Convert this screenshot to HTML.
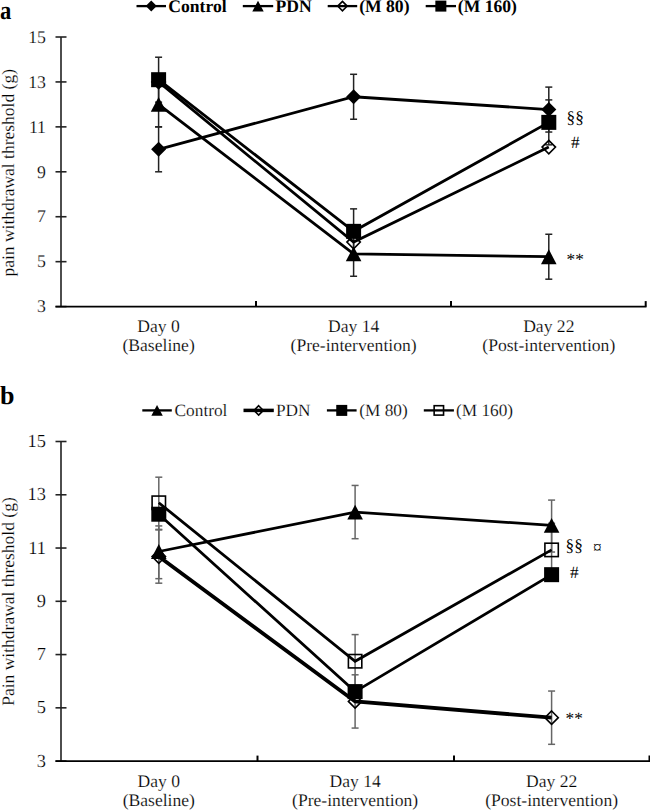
<!DOCTYPE html>
<html><head><meta charset="utf-8"><style>
html,body{margin:0;padding:0;background:#fff;width:650px;height:811px;overflow:hidden}
svg{display:block}
text{font-family:"Liberation Serif", serif;fill:#000;text-rendering:geometricPrecision}
text:not([font-weight="bold"]):not(.sym){stroke:#fff;stroke-width:0.18px}
</style></head><body>
<svg width="650" height="811" viewBox="0 0 650 811">
<text transform="translate(0,19) scale(0.87,1)" x="0" y="0" font-size="26" font-weight="bold">a</text>
<line x1="136.5" y1="6.1" x2="166" y2="6.1" stroke="#000" stroke-width="2.3"/>
<path d="M151.25,0.60 L156.75,6.10 L151.25,11.60 L145.75,6.10Z" fill="#000"/>
<text x="168.3" y="11.5" font-size="17.6" font-weight="bold">Control</text>
<line x1="242.8" y1="6.1" x2="273.2" y2="6.1" stroke="#000" stroke-width="2.3"/>
<path d="M258.00,0.67 L263.72,11.53 L252.28,11.53Z" fill="#000"/>
<text x="275.5" y="11.5" font-size="17.6" font-weight="bold">PDN</text>
<line x1="327.7" y1="6.1" x2="357.2" y2="6.1" stroke="#000" stroke-width="2.3"/>
<path d="M342.45,1.40 L347.15,6.10 L342.45,10.80 L337.75,6.10Z" fill="none" stroke="#000" stroke-width="1.6"/>
<text x="359.2" y="11.5" font-size="17.6" font-weight="bold">(M 80)</text>
<line x1="425.7" y1="6.1" x2="456" y2="6.1" stroke="#000" stroke-width="2.3"/>
<rect x="435.35" y="0.60" width="11" height="11" fill="#000"/>
<text x="457.8" y="11.5" font-size="17.6" font-weight="bold">(M 160)</text>
<line x1="61" y1="37" x2="61" y2="306.6" stroke="#3a3a3a" stroke-width="1.8"/>
<line x1="55.5" y1="37.00" x2="66.5" y2="37.00" stroke="#222" stroke-width="1.6"/>
<text x="46" y="42.70" text-anchor="end" font-size="17.8">15</text>
<line x1="55.5" y1="81.93" x2="66.5" y2="81.93" stroke="#222" stroke-width="1.6"/>
<text x="46" y="87.63" text-anchor="end" font-size="17.8">13</text>
<line x1="55.5" y1="126.87" x2="66.5" y2="126.87" stroke="#222" stroke-width="1.6"/>
<text x="46" y="132.57" text-anchor="end" font-size="17.8">11</text>
<line x1="55.5" y1="171.80" x2="66.5" y2="171.80" stroke="#222" stroke-width="1.6"/>
<text x="46" y="177.50" text-anchor="end" font-size="17.8">9</text>
<line x1="55.5" y1="216.73" x2="66.5" y2="216.73" stroke="#222" stroke-width="1.6"/>
<text x="46" y="222.43" text-anchor="end" font-size="17.8">7</text>
<line x1="55.5" y1="261.67" x2="66.5" y2="261.67" stroke="#222" stroke-width="1.6"/>
<text x="46" y="267.37" text-anchor="end" font-size="17.8">5</text>
<line x1="55.5" y1="306.60" x2="66.5" y2="306.60" stroke="#222" stroke-width="1.6"/>
<text x="46" y="312.30" text-anchor="end" font-size="17.8">3</text>
<line x1="55.5" y1="306.6" x2="646.5" y2="306.6" stroke="#000" stroke-width="1.8"/>
<line x1="256" y1="301.1" x2="256" y2="306.6" stroke="#000" stroke-width="2"/>
<line x1="451" y1="301.1" x2="451" y2="306.6" stroke="#000" stroke-width="2"/>
<line x1="645.7" y1="301.1" x2="645.7" y2="306.6" stroke="#000" stroke-width="2"/>
<text x="158.6" y="332.3" text-anchor="middle" font-size="17.6">Day 0</text>
<text x="158.6" y="351.3" text-anchor="middle" font-size="17.6">(Baseline)</text>
<text x="353.6" y="332.3" text-anchor="middle" font-size="17.6">Day 14</text>
<text x="353.6" y="351.3" text-anchor="middle" font-size="17.6">(Pre-intervention)</text>
<text x="548.8" y="332.3" text-anchor="middle" font-size="17.6">Day 22</text>
<text x="548.8" y="351.3" text-anchor="middle" font-size="17.6">(Post-intervention)</text>
<text transform="translate(14.3,172.8) rotate(-90)" text-anchor="middle" font-size="17.5">pain withdrawal threshold (g)</text>
<g stroke="#222" stroke-width="1.5"><line x1="158.6" y1="57.22" x2="158.6" y2="102.15"/><line x1="155.1" y1="57.22" x2="162.1" y2="57.22"/><line x1="155.1" y1="102.15" x2="162.1" y2="102.15"/></g>
<g stroke="#222" stroke-width="1.5"><line x1="158.6" y1="126.87" x2="158.6" y2="171.80"/><line x1="155.1" y1="126.87" x2="162.1" y2="126.87"/><line x1="155.1" y1="171.80" x2="162.1" y2="171.80"/></g>
<g stroke="#222" stroke-width="1.5"><line x1="158.6" y1="81.93" x2="158.6" y2="126.87"/><line x1="155.1" y1="81.93" x2="162.1" y2="81.93"/><line x1="155.1" y1="126.87" x2="162.1" y2="126.87"/></g>
<g stroke="#222" stroke-width="1.5"><line x1="353.6" y1="74.29" x2="353.6" y2="119.23"/><line x1="350.1" y1="74.29" x2="357.1" y2="74.29"/><line x1="350.1" y1="119.23" x2="357.1" y2="119.23"/></g>
<g stroke="#222" stroke-width="1.5"><line x1="353.6" y1="208.87" x2="353.6" y2="253.80"/><line x1="350.1" y1="208.87" x2="357.1" y2="208.87"/><line x1="350.1" y1="253.80" x2="357.1" y2="253.80"/></g>
<g stroke="#222" stroke-width="1.5"><line x1="353.6" y1="231.34" x2="353.6" y2="276.27"/><line x1="350.1" y1="231.34" x2="357.1" y2="231.34"/><line x1="350.1" y1="276.27" x2="357.1" y2="276.27"/></g>
<g stroke="#222" stroke-width="1.5"><line x1="548.8" y1="87.10" x2="548.8" y2="132.03"/><line x1="545.3" y1="87.10" x2="552.3" y2="87.10"/><line x1="545.3" y1="132.03" x2="552.3" y2="132.03"/></g>
<g stroke="#222" stroke-width="1.5"><line x1="548.8" y1="99.91" x2="548.8" y2="144.84"/><line x1="545.3" y1="99.91" x2="552.3" y2="99.91"/><line x1="545.3" y1="144.84" x2="552.3" y2="144.84"/></g>
<g stroke="#222" stroke-width="1.5"><line x1="548.8" y1="234.26" x2="548.8" y2="279.19"/><line x1="545.3" y1="234.26" x2="552.3" y2="234.26"/><line x1="545.3" y1="279.19" x2="552.3" y2="279.19"/></g>
<polyline points="158.60,149.33 353.60,96.76 548.80,109.57" fill="none" stroke="#000" stroke-width="2.8" stroke-linejoin="miter"/>
<path d="M158.60,141.83 L166.10,149.33 L158.60,156.83 L151.10,149.33Z" fill="#000"/>
<path d="M353.60,89.26 L361.10,96.76 L353.60,104.26 L346.10,96.76Z" fill="#000"/>
<path d="M548.80,102.07 L556.30,109.57 L548.80,117.07 L541.30,109.57Z" fill="#000"/>
<polyline points="158.60,104.40 353.60,253.80 548.80,256.72" fill="none" stroke="#000" stroke-width="2.8" stroke-linejoin="miter"/>
<path d="M158.60,97.00 L166.40,111.80 L150.80,111.80Z" fill="#000"/>
<path d="M353.60,246.40 L361.40,261.21 L345.80,261.21Z" fill="#000"/>
<path d="M548.80,249.32 L556.60,264.13 L541.00,264.13Z" fill="#000"/>
<polyline points="158.60,81.93 353.60,242.12 548.80,147.09" fill="none" stroke="#000" stroke-width="2.8" stroke-linejoin="miter"/>
<path d="M158.60,75.23 L165.30,81.93 L158.60,88.63 L151.90,81.93Z" fill="none" stroke="#000" stroke-width="1.6"/>
<path d="M353.60,235.42 L360.30,242.12 L353.60,248.82 L346.90,242.12Z" fill="none" stroke="#000" stroke-width="1.6"/>
<path d="M548.80,140.39 L555.50,147.09 L548.80,153.79 L542.10,147.09Z" fill="none" stroke="#000" stroke-width="1.6"/>
<polyline points="158.60,79.69 353.60,231.34 548.80,122.37" fill="none" stroke="#000" stroke-width="2.8" stroke-linejoin="miter"/>
<rect x="151.10" y="72.19" width="15" height="15" fill="#000"/>
<rect x="346.10" y="223.84" width="15" height="15" fill="#000"/>
<rect x="541.30" y="114.87" width="15" height="15" fill="#000"/>
<text x="566.5" y="123" font-size="17.3" class="sym">§§</text>
<text x="571" y="148" font-size="17.3" class="sym">#</text>
<text x="566.5" y="264.5" font-size="17.3" class="sym">**</text>
<text x="0" y="404" font-size="26" font-weight="bold">b</text>
<line x1="142.3" y1="410.4" x2="171.8" y2="410.4" stroke="#000" stroke-width="2.3"/>
<path d="M157.05,404.97 L162.77,415.83 L151.33,415.83Z" fill="#000"/>
<text x="174.6" y="416.4" font-size="17.3" font-weight="normal">Control</text>
<line x1="243.5" y1="410.4" x2="273.8" y2="410.4" stroke="#000" stroke-width="3.5"/>
<path d="M258.65,405.70 L263.35,410.40 L258.65,415.10 L253.95,410.40Z" fill="none" stroke="#000" stroke-width="1.6"/>
<text x="276" y="416.4" font-size="17.3" font-weight="normal">PDN</text>
<line x1="326.9" y1="410.4" x2="356.6" y2="410.4" stroke="#000" stroke-width="2.3"/>
<rect x="336.25" y="404.90" width="11" height="11" fill="#000"/>
<text x="359.2" y="416.4" font-size="17.3" font-weight="normal">(M 80)</text>
<line x1="423.8" y1="410.4" x2="453.9" y2="410.4" stroke="#000" stroke-width="2.3"/>
<rect x="434.15" y="405.70" width="9.4" height="9.4" fill="none" stroke="#000" stroke-width="1.6"/>
<text x="456" y="416.4" font-size="17.3" font-weight="normal">(M 160)</text>
<line x1="61" y1="441.5" x2="61" y2="761.1" stroke="#3a3a3a" stroke-width="1.8"/>
<line x1="55.5" y1="441.50" x2="66.5" y2="441.50" stroke="#222" stroke-width="1.6"/>
<text x="46" y="447.10" text-anchor="end" font-size="18.4">15</text>
<line x1="55.5" y1="494.77" x2="66.5" y2="494.77" stroke="#222" stroke-width="1.6"/>
<text x="46" y="500.37" text-anchor="end" font-size="18.4">13</text>
<line x1="55.5" y1="548.03" x2="66.5" y2="548.03" stroke="#222" stroke-width="1.6"/>
<text x="46" y="553.63" text-anchor="end" font-size="18.4">11</text>
<line x1="55.5" y1="601.30" x2="66.5" y2="601.30" stroke="#222" stroke-width="1.6"/>
<text x="46" y="606.90" text-anchor="end" font-size="18.4">9</text>
<line x1="55.5" y1="654.57" x2="66.5" y2="654.57" stroke="#222" stroke-width="1.6"/>
<text x="46" y="660.17" text-anchor="end" font-size="18.4">7</text>
<line x1="55.5" y1="707.83" x2="66.5" y2="707.83" stroke="#222" stroke-width="1.6"/>
<text x="46" y="713.43" text-anchor="end" font-size="18.4">5</text>
<line x1="55.5" y1="761.10" x2="66.5" y2="761.10" stroke="#222" stroke-width="1.6"/>
<text x="46" y="766.70" text-anchor="end" font-size="18.4">3</text>
<line x1="55.5" y1="761.1" x2="650" y2="761.1" stroke="#000" stroke-width="1.8"/>
<line x1="257.5" y1="755.6" x2="257.5" y2="761.1" stroke="#000" stroke-width="2"/>
<line x1="454" y1="755.6" x2="454" y2="761.1" stroke="#000" stroke-width="2"/>
<line x1="649.5" y1="755.6" x2="649.5" y2="761.1" stroke="#000" stroke-width="2"/>
<text x="158.8" y="787.4" text-anchor="middle" font-size="17.6">Day 0</text>
<text x="158.8" y="806.4" text-anchor="middle" font-size="17.6">(Baseline)</text>
<text x="355.1" y="787.4" text-anchor="middle" font-size="17.6">Day 14</text>
<text x="355.1" y="806.4" text-anchor="middle" font-size="17.6">(Pre-intervention)</text>
<text x="551.6" y="787.4" text-anchor="middle" font-size="17.6">Day 22</text>
<text x="551.6" y="806.4" text-anchor="middle" font-size="17.6">(Post-intervention)</text>
<text transform="translate(13.6,601.5) rotate(-90)" text-anchor="middle" font-size="17.5">Pain withdrawal threshold (g)</text>
<g stroke="#666" stroke-width="1.5"><line x1="158.8" y1="525.93" x2="158.8" y2="578.66"/><line x1="155.3" y1="525.93" x2="162.3" y2="525.93"/><line x1="155.3" y1="578.66" x2="162.3" y2="578.66"/></g>
<g stroke="#666" stroke-width="1.5"><line x1="158.8" y1="529.92" x2="158.8" y2="583.19"/><line x1="155.3" y1="529.92" x2="162.3" y2="529.92"/><line x1="155.3" y1="583.19" x2="162.3" y2="583.19"/></g>
<g stroke="#666" stroke-width="1.5"><line x1="158.8" y1="477.19" x2="158.8" y2="529.39"/><line x1="155.3" y1="477.19" x2="162.3" y2="477.19"/><line x1="155.3" y1="529.39" x2="162.3" y2="529.39"/></g>
<g stroke="#666" stroke-width="1.5"><line x1="355.1" y1="485.44" x2="355.1" y2="538.71"/><line x1="351.6" y1="485.44" x2="358.6" y2="485.44"/><line x1="351.6" y1="538.71" x2="358.6" y2="538.71"/></g>
<g stroke="#666" stroke-width="1.5"><line x1="355.1" y1="674.81" x2="355.1" y2="728.07"/><line x1="351.6" y1="674.81" x2="358.6" y2="674.81"/><line x1="351.6" y1="728.07" x2="358.6" y2="728.07"/></g>
<g stroke="#666" stroke-width="1.5"><line x1="355.1" y1="634.59" x2="355.1" y2="687.86"/><line x1="351.6" y1="634.59" x2="358.6" y2="634.59"/><line x1="351.6" y1="687.86" x2="358.6" y2="687.86"/></g>
<g stroke="#666" stroke-width="1.5"><line x1="551.6" y1="500.09" x2="551.6" y2="552.03"/><line x1="548.1" y1="500.09" x2="555.1" y2="500.09"/><line x1="548.1" y1="552.03" x2="555.1" y2="552.03"/></g>
<g stroke="#666" stroke-width="1.5"><line x1="551.6" y1="691.05" x2="551.6" y2="744.32"/><line x1="548.1" y1="691.05" x2="555.1" y2="691.05"/><line x1="548.1" y1="744.32" x2="555.1" y2="744.32"/></g>
<g stroke="#666" stroke-width="1.5"><line x1="551.6" y1="523.26" x2="551.6" y2="576.53"/><line x1="548.1" y1="523.26" x2="555.1" y2="523.26"/><line x1="548.1" y1="576.53" x2="555.1" y2="576.53"/></g>
<polyline points="158.80,551.50 355.10,512.08 551.60,525.39" fill="none" stroke="#000" stroke-width="2.8" stroke-linejoin="miter"/>
<path d="M158.80,544.09 L166.60,558.90 L151.00,558.90Z" fill="#000"/>
<path d="M355.10,504.68 L362.90,519.48 L347.30,519.48Z" fill="#000"/>
<path d="M551.60,517.99 L559.40,532.80 L543.80,532.80Z" fill="#000"/>
<polyline points="158.80,556.56 355.10,701.44 551.60,717.69" fill="none" stroke="#000" stroke-width="3.8" stroke-linejoin="miter"/>
<path d="M158.80,549.86 L165.50,556.56 L158.80,563.26 L152.10,556.56Z" fill="none" stroke="#000" stroke-width="1.6"/>
<path d="M355.10,694.74 L361.80,701.44 L355.10,708.14 L348.40,701.44Z" fill="none" stroke="#000" stroke-width="1.6"/>
<path d="M551.60,710.99 L558.30,717.69 L551.60,724.39 L544.90,717.69Z" fill="none" stroke="#000" stroke-width="1.6"/>
<polyline points="158.80,514.21 355.10,691.59 551.60,574.67" fill="none" stroke="#000" stroke-width="2.8" stroke-linejoin="miter"/>
<rect x="151.30" y="506.71" width="15" height="15" fill="#000"/>
<rect x="347.60" y="684.09" width="15" height="15" fill="#000"/>
<rect x="544.10" y="567.17" width="15" height="15" fill="#000"/>
<polyline points="158.80,502.76 355.10,661.23 551.60,549.90" fill="none" stroke="#000" stroke-width="2.8" stroke-linejoin="miter"/>
<rect x="152.10" y="496.06" width="13.4" height="13.4" fill="none" stroke="#000" stroke-width="1.6"/>
<rect x="348.40" y="654.52" width="13.4" height="13.4" fill="none" stroke="#000" stroke-width="1.6"/>
<rect x="544.90" y="543.20" width="13.4" height="13.4" fill="none" stroke="#000" stroke-width="1.6"/>
<text x="565.5" y="551" font-size="17.3" class="sym">§§</text>
<text x="593" y="553" font-size="17.3" class="sym">¤</text>
<text x="570" y="578" font-size="17.3" class="sym">#</text>
<text x="565.5" y="724" font-size="17.3" class="sym">**</text>
</svg>
</body></html>
